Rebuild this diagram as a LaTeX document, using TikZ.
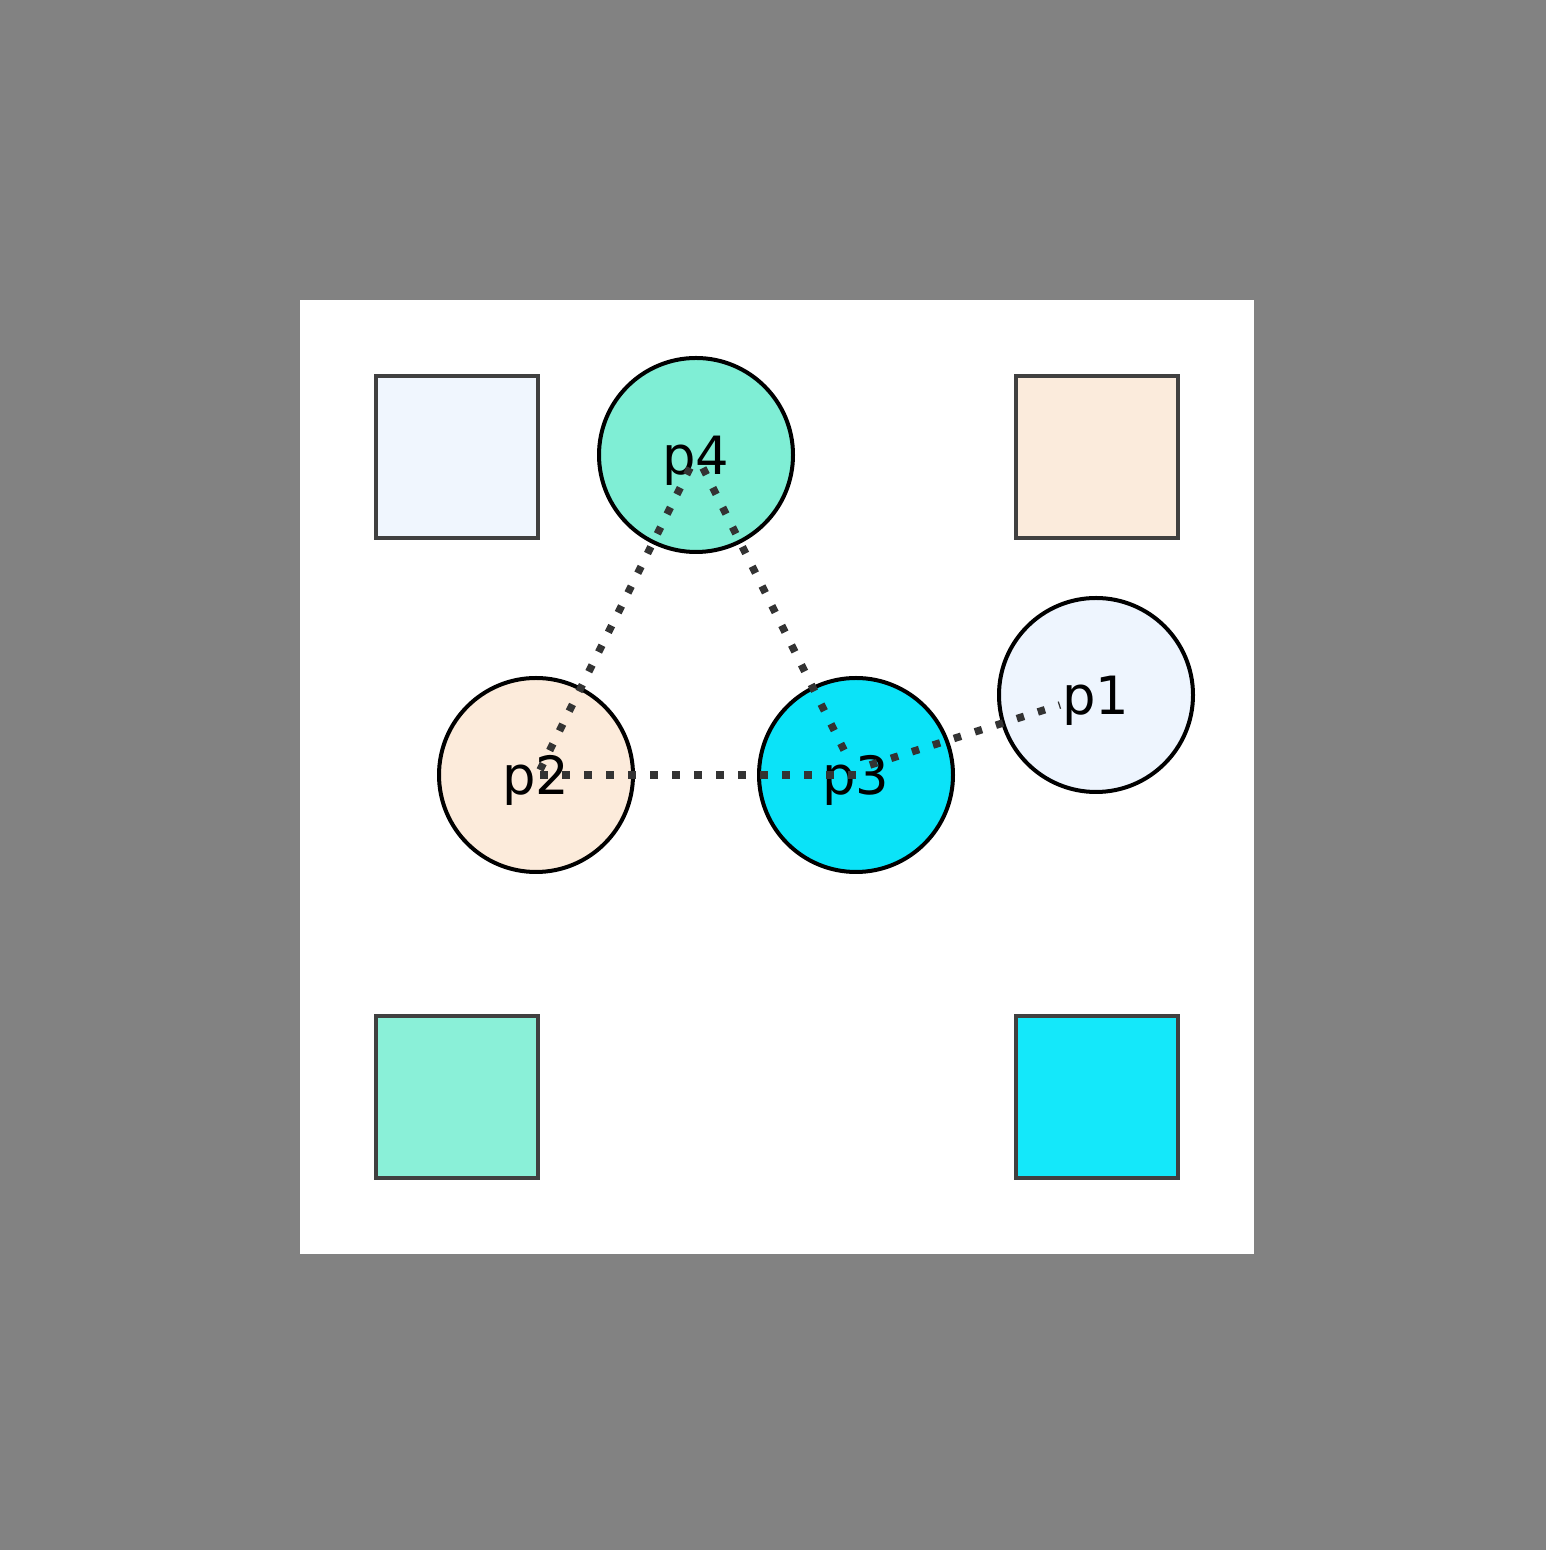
\documentclass[tikz,border=0pt]{standalone}
\usepackage{fontspec}
\setmainfont{DejaVu Sans}
\usepackage{tikz}
\usetikzlibrary{positioning}
\definecolor{bgGray}{HTML}{828282}
\definecolor{sqBlue}{HTML}{F0F6FE}
\definecolor{sqLinen}{HTML}{FBEBDC}
\definecolor{sqAqua}{HTML}{8AF0D8}
\definecolor{sqCyan}{HTML}{14E8FA}
\definecolor{cAqua}{HTML}{7FEED5}
\definecolor{cCyan}{HTML}{0BE3F8}
\definecolor{cLinen}{HTML}{FCEBDB}
\definecolor{cBlue}{HTML}{EEF5FE}
\begin{document}
\begin{tikzpicture}
[squarebox/.style={rectangle, draw=black!75, line width=0.035cm, minimum size=1.62cm, inner sep=0pt},
 placebox/.style={circle, draw=black, line width=0.04cm, minimum size=1.94cm, inner sep=0pt,
   font=\fontsize{15}{15}\selectfont, text depth=0pt},
 link/.style={draw=black!80, line width=0.075cm, dash pattern=on 0.075cm off 0.145cm}]
  \fill[bgGray] (0,0) rectangle (15.46,15.50);
  \fill[white] (3.00,2.96) rectangle (12.54,12.50);
  % corner squares
  \node[squarebox, fill=sqBlue] (sqTL) at (4.57,10.93) {};
  \node[squarebox, fill=sqLinen] (sqTR) at (10.97,10.93) {};
  \node[squarebox, fill=sqAqua] (sqBL) at (4.57,4.53) {};
  \node[squarebox, fill=sqCyan] (sqBR) at (10.97,4.53) {};
  % places
  \node[placebox, fill=cAqua] (p4) at (6.96,10.95) {p4};
  \node[placebox, fill=cLinen] (p2) at (5.36,7.75) {p2};
  \node[placebox, fill=cCyan] (p3) at (8.56,7.75) {p3};
  \node[placebox, fill=cBlue] (p1) at (10.96,8.55) {p1};
  % links
  \draw[link] ([xshift=-0.06cm,yshift=-0.13cm]p4.center) -- ([xshift=0.04cm,yshift=0.05cm]p2.center);
  \draw[link] ([xshift=0.07cm,yshift=-0.13cm]p4.center) -- ([xshift=-0.08cm,yshift=0.17cm]p3.center);
  \draw[link] ([xshift=0.04cm]p2.center) -- (p3.center);
  \draw[link] ([xshift=0.14cm,yshift=0.10cm]p3.center) -- ([xshift=-0.36cm,yshift=-0.10cm]p1.center);
\end{tikzpicture}
\end{document}
